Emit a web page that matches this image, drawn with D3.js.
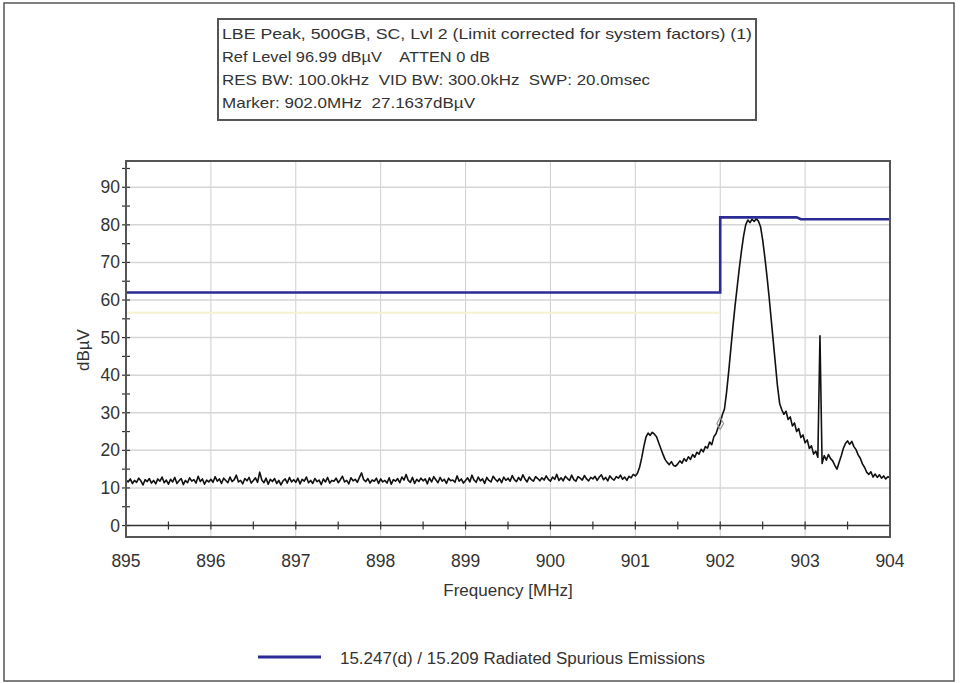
<!DOCTYPE html>
<html><head><meta charset="utf-8">
<script src="https://cdn.jsdelivr.net/npm/d3@7"></script>
<style>html,body{margin:0;padding:0;background:#fff;}svg{display:block;font-family:"Liberation Sans",Arial,sans-serif;}</style>
</head><body>
<svg id="c" width="960" height="683"></svg>
<script>
// ---- data ----
const headerLines = [
  "LBE Peak, 500GB, SC, Lvl 2 (Limit corrected for system factors) (1)",
  "Ref Level 96.99 dB\u00b5V    ATTEN 0 dB",
  "RES BW: 100.0kHz  VID BW: 300.0kHz  SWP: 20.0msec",
  "Marker: 902.0MHz  27.1637dB\u00b5V"
];
const xTicks = [895, 896, 897, 898, 899, 900, 901, 902, 903, 904];
const yTicks = [0, 10, 20, 30, 40, 50, 60, 70, 80, 90];
const xLabel = "Frequency [MHz]";
const yLabel = "dB\u00b5V";
const legendLabel = "15.247(d) / 15.209 Radiated Spurious Emissions";
const limitFreq = [895, 902, 902, 902.9, 902.95, 904];
const limitVals = [62, 62, 82, 82, 81.5, 81.5];
const avgFreq = [895, 902];
const avgVals = [56.6, 56.6];
const marker = {freq: 902.0, val: 27.16};
const traceStart = 895, traceStep = 0.025;
const traceValues = [
12.1,11.6,12.4,11.2,12.0,11.5,12.6,11.9,10.8,12.2,11.7,12.5,11.3,12.0,11.1,12.4,11.8,12.9,11.4,12.1,
11.0,12.3,11.6,12.8,11.2,11.9,12.5,10.9,12.0,11.4,12.7,11.8,12.2,11.3,13.1,11.7,12.4,11.0,12.1,11.6,
12.3,11.5,13.0,11.8,12.4,11.2,12.6,12.0,11.4,12.9,11.7,12.2,13.4,11.6,12.0,11.1,12.5,11.9,12.8,11.3,
12.0,12.7,11.5,14.2,12.1,11.4,12.6,11.0,12.3,11.7,12.5,11.2,12.0,10.8,11.9,12.4,11.3,12.8,11.6,12.2,
11.5,12.6,11.1,12.3,11.8,12.9,11.4,12.0,11.2,12.5,11.7,12.1,10.9,12.4,11.6,12.8,11.3,12.0,11.8,12.6,
11.4,12.2,13.1,11.6,12.0,11.1,12.7,11.9,12.3,11.5,12.8,14.0,12.2,11.7,12.5,11.3,12.1,11.8,12.6,11.2,
12.4,11.6,12.0,11.3,12.7,11.0,12.2,11.8,12.5,11.4,12.9,12.1,13.6,12.0,11.5,12.8,11.2,12.3,11.7,12.6,
11.9,12.4,11.1,12.7,11.6,13.0,12.2,11.4,12.8,11.8,12.3,11.2,12.6,11.9,12.1,11.5,13.2,11.8,12.4,11.3,
12.0,12.7,11.6,13.4,12.1,11.5,12.9,11.9,12.4,11.2,12.8,12.0,11.6,13.1,12.3,11.7,12.5,11.4,12.9,12.0,
12.6,11.8,13.3,12.2,11.7,12.8,12.0,13.5,12.4,11.6,12.9,12.2,11.8,13.0,12.5,11.9,12.7,12.1,13.2,12.3,
11.8,12.9,12.3,13.6,12.0,12.7,11.9,13.1,12.5,12.0,13.4,12.2,11.8,13.0,12.6,12.1,13.3,12.4,11.9,12.8,
12.4,13.1,12.0,12.9,13.5,12.2,12.8,11.9,13.2,12.5,12.1,13.0,12.6,13.4,12.3,12.9,12.0,13.1,12.7,13.6,
13.2,13.9,15.5,18.0,21.0,23.5,24.6,24.0,24.8,24.3,23.6,22.0,20.5,19.0,17.6,16.8,16.2,17.0,16.0,15.8,
16.4,17.2,16.6,17.8,17.1,18.3,17.6,18.9,18.2,19.5,19.0,20.3,19.6,21.0,20.6,22.2,21.5,23.6,24.4,26.1,
27.2,29.5,31.0,35.5,41.0,47.0,53.0,58.5,63.5,68.5,73.0,77.0,80.0,81.3,80.6,81.5,80.9,81.6,81.0,79.5,
76.0,71.5,66.5,61.0,55.0,49.0,43.0,37.0,32.5,30.8,
29.6,30.4,28.2,28.9,26.5,27.3,25.0,25.8,23.4,24.1,22.0,22.8,20.5,21.2,19.0,19.8,18.2,
50.5,16.5,18.6,17.4,18.9,17.8,17.2,16.0,15.0,16.8,18.5,20.5,21.8,22.5,21.6,22.4,21.0,20.2,18.8,17.9,
16.4,15.5,14.2,13.6,14.3,12.9,13.7,12.8,13.5,12.6,13.2,12.4,13.0,12.7
];

// ---- drawing ----
const svg = d3.select("#c");
const L = 126, R = 890, T = 161, B = 537;
const x = d3.scaleLinear().domain([895, 904]).range([L, R]);
const y = d3.scaleLinear().domain([-3.05, 96.99]).range([B, T]);
const textCol = "#333";
const blue = "#2b2b96";

// outer frame
svg.append("rect").attr("x", 4).attr("y", 3).attr("width", 950).attr("height", 678)
  .attr("fill", "none").attr("stroke", "#555").attr("stroke-width", 1.5);

// header box
const headerWidths = [530, 268, 428, 253];
const hb = svg.append("g");
hb.append("rect").attr("x", 218).attr("y", 19).attr("width", 538).attr("height", 101)
  .attr("fill", "#fff").attr("stroke", "#555").attr("stroke-width", 2);
headerLines.forEach((t, i) => {
  hb.append("text").attr("x", 222).attr("y", 39 + i * 23).attr("font-size", 15)
    .attr("textLength", headerWidths[i]).attr("lengthAdjust", "spacingAndGlyphs")
    .attr("fill", textCol).style("white-space", "pre").text(t);
});

// grid
const g = svg.append("g");
g.selectAll(".vg").data(xTicks.slice(1, -1)).join("line")
  .attr("x1", d => x(d)).attr("x2", d => x(d)).attr("y1", T).attr("y2", B)
  .attr("stroke", "#cfcfcf").attr("stroke-width", 1);
g.selectAll(".hg").data(yTicks.filter(d => d > 0)).join("line")
  .attr("x1", L).attr("x2", R).attr("y1", d => y(d)).attr("y2", d => y(d))
  .attr("stroke", "#d6d6d6").attr("stroke-width", 1.5);

// faint average limit
const line = d3.line().x(d => x(d[0])).y(d => y(d[1]));
g.append("path").datum(d3.zip(avgFreq, avgVals)).attr("d", line)
  .attr("fill", "none").attr("stroke", "#f6f1cf").attr("stroke-width", 2);

// zero axis line with minor ticks
g.append("line").attr("x1", L).attr("x2", R).attr("y1", y(0)).attr("y2", y(0))
  .attr("stroke", "#333").attr("stroke-width", 1.5);
const xMinor = d3.range(895.5, 904, 0.5);
g.selectAll(".xt").data(xMinor).join("line")
  .attr("x1", d => x(d)).attr("x2", d => x(d)).attr("y1", y(0) - 4).attr("y2", y(0) + 4)
  .attr("stroke", "#333").attr("stroke-width", 1.2);
const yMinor = d3.range(0, 100, 5);
g.selectAll(".yt").data(yMinor).join("line")
  .attr("x1", L - 4).attr("x2", L + 4).attr("y1", d => y(d)).attr("y2", d => y(d))
  .attr("stroke", "#333").attr("stroke-width", 1.2);

// trace
const traceData = traceValues.map((v, i) => [traceStart + i * traceStep, v]);
g.append("path").datum(traceData).attr("d", line)
  .attr("fill", "none").attr("stroke", "#111").attr("stroke-width", 1.6).attr("stroke-linejoin", "round");

// marker
g.append("path").attr("d", d3.symbol(d3.symbolDiamond, 40)())
  .attr("transform", `translate(${x(marker.freq)},${y(marker.val)})`)
  .attr("fill", "none").attr("stroke", "#999").attr("stroke-width", 1.2);

// limit line
g.append("path").datum(d3.zip(limitFreq, limitVals)).attr("d", line)
  .attr("fill", "none").attr("stroke", blue).attr("stroke-width", 2.6);

// plot border
svg.append("rect").attr("x", L).attr("y", T).attr("width", R - L).attr("height", B - T)
  .attr("fill", "none").attr("stroke", "#555").attr("stroke-width", 2);

// tick labels
svg.selectAll(".xl").data(xTicks).join("text")
  .attr("x", d => x(d)).attr("y", 567).attr("text-anchor", "middle")
  .attr("font-size", 17.5).attr("fill", textCol).text(d => d);
svg.selectAll(".yl").data(yTicks).join("text")
  .attr("x", L - 6).attr("y", d => y(d) + 6).attr("text-anchor", "end")
  .attr("font-size", 17.5).attr("fill", textCol).text(d => d);

// axis titles
svg.append("text").attr("x", 508).attr("y", 596).attr("text-anchor", "middle")
  .attr("font-size", 17).attr("fill", textCol).text(xLabel);
svg.append("text").attr("transform", "translate(89,350) rotate(-90)").attr("text-anchor", "middle")
  .attr("font-size", 17).attr("fill", textCol).text(yLabel);

// legend
svg.append("line").attr("x1", 258).attr("x2", 321).attr("y1", 657).attr("y2", 657)
  .attr("stroke", blue).attr("stroke-width", 3);
svg.append("text").attr("x", 340).attr("y", 664).attr("font-size", 16)
  .attr("textLength", 365).attr("lengthAdjust", "spacingAndGlyphs")
  .attr("fill", textCol).text(legendLabel);
</script>
</body></html>
